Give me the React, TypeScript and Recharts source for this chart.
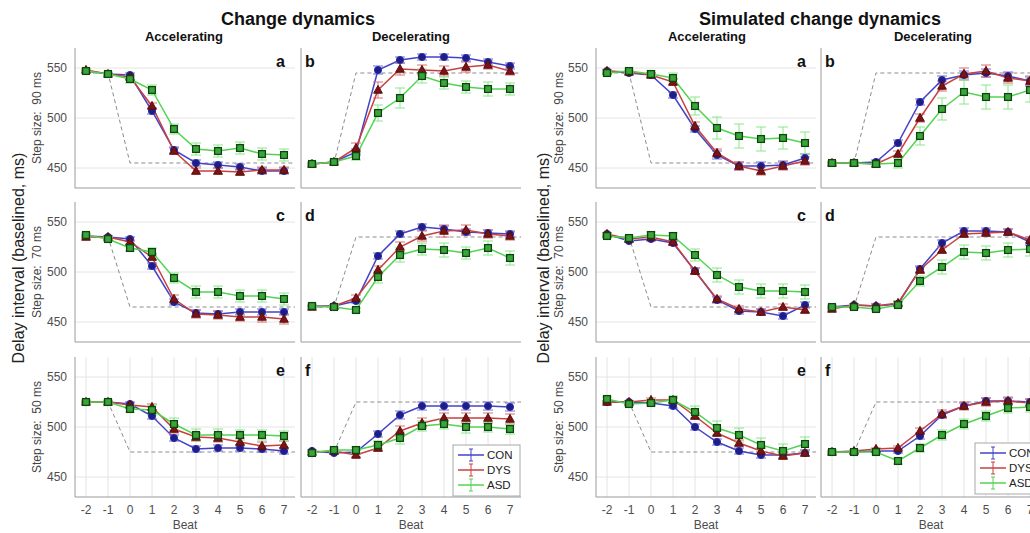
import React from 'react';
import { LineChart, Line, XAxis, YAxis, CartesianGrid, ErrorBar } from 'recharts';

// ---- shared axis values ----
const beats = [-2, -1, 0, 1, 2, 3, 4, 5, 6, 7];
const yTicks = [450, 500, 550];
const targetBeats = [-2, -1, 0, 7.5];

// target (stimulus) intervals, dashed line
const accTarget90 = [545, 545, 455, 455];
const decTarget90 = [455, 455, 545, 545];
const accTarget70 = [535, 535, 465, 465];
const decTarget70 = [465, 465, 535, 535];
const accTarget50 = [525, 525, 475, 475];
const decTarget50 = [475, 475, 525, 525];

// ---- Change dynamics (observed) ----
const obsAcc90Con = [547, 544, 543, 507, 468, 455, 453, 451, 447, 447];
const obsAcc90Dys = [548, 544, 541, 512, 467, 447, 447, 446, 448, 448];
const obsAcc90Asd = [547, 544, 539, 528, 489, 469, 467, 470, 464, 463];
const obsAcc90ConErr = [1, 1, 2, 3, 3, 3, 3, 3, 3, 3];
const obsAcc90DysErr = [1, 1, 2, 3, 3, 3, 3, 3, 3, 3];
const obsAcc90AsdErr = [2, 2, 4, 5, 5, 6, 6, 6, 6, 6];

const obsDec90Con = [454, 456, 466, 548, 558, 561, 561, 560, 556, 552];
const obsDec90Dys = [454, 456, 470, 528, 549, 548, 547, 551, 553, 547];
const obsDec90Asd = [454, 456, 462, 505, 520, 542, 535, 531, 529, 529];
const obsDec90ConErr = [1, 1, 3, 4, 3, 3, 3, 3, 3, 3];
const obsDec90DysErr = [1, 1, 5, 8, 6, 5, 5, 5, 4, 4];
const obsDec90AsdErr = [2, 2, 4, 8, 10, 7, 6, 6, 7, 6];

const obsAcc70Con = [536, 535, 533, 506, 470, 459, 458, 460, 460, 460];
const obsAcc70Dys = [535, 535, 530, 515, 473, 458, 457, 455, 455, 453];
const obsAcc70Asd = [537, 533, 524, 520, 494, 480, 480, 476, 476, 473];
const obsAcc70ConErr = [1, 1, 2, 3, 3, 3, 3, 3, 3, 3];
const obsAcc70DysErr = [1, 1, 2, 3, 4, 4, 4, 4, 5, 5];
const obsAcc70AsdErr = [2, 2, 3, 4, 5, 6, 6, 6, 6, 6];

const obsDec70Con = [466, 466, 471, 516, 538, 545, 543, 540, 539, 538];
const obsDec70Dys = [465, 466, 474, 502, 525, 536, 541, 542, 538, 536];
const obsDec70Asd = [466, 465, 462, 495, 517, 523, 522, 519, 524, 514];
const obsDec70ConErr = [1, 1, 2, 3, 3, 3, 3, 3, 3, 3];
const obsDec70DysErr = [1, 1, 3, 4, 5, 5, 6, 5, 4, 4];
const obsDec70AsdErr = [2, 2, 2, 6, 7, 6, 7, 6, 7, 7];

const obsAcc50Con = [525, 525, 523, 511, 489, 478, 479, 479, 478, 476];
const obsAcc50Dys = [525, 525, 522, 520, 498, 490, 489, 485, 481, 482];
const obsAcc50Asd = [525, 525, 518, 517, 503, 492, 492, 492, 492, 491];
const obsAcc50ConErr = [1, 1, 2, 3, 3, 3, 3, 3, 3, 3];
const obsAcc50DysErr = [1, 1, 2, 3, 4, 4, 4, 4, 4, 4];
const obsAcc50AsdErr = [2, 2, 3, 5, 6, 6, 6, 5, 5, 5];

const obsDec50Con = [476, 474, 475, 493, 512, 521, 521, 521, 521, 520];
const obsDec50Dys = [475, 476, 472, 479, 496, 504, 509, 509, 509, 508];
const obsDec50Asd = [474, 477, 477, 482, 489, 501, 503, 500, 500, 498];
const obsDec50ConErr = [1, 1, 2, 3, 4, 4, 4, 4, 4, 4];
const obsDec50DysErr = [1, 1, 2, 3, 5, 5, 5, 5, 5, 5];
const obsDec50AsdErr = [2, 2, 3, 4, 6, 5, 5, 6, 5, 5];

// ---- Simulated change dynamics ----
const simAcc90Con = [547, 545, 543, 523, 489, 463, 452, 452, 453, 460];
const simAcc90Dys = [547, 546, 543, 536, 492, 465, 452, 447, 452, 457];
const simAcc90Asd = [545, 547, 544, 540, 512, 490, 482, 479, 480, 475];
const simAcc90ConErr = [1, 1, 2, 3, 3, 4, 4, 4, 4, 4];
const simAcc90DysErr = [1, 1, 2, 3, 4, 4, 4, 4, 4, 4];
const simAcc90AsdErr = [2, 2, 3, 5, 9, 11, 12, 12, 11, 11];

const simDec90Con = [455, 455, 456, 475, 516, 538, 543, 545, 542, 537];
const simDec90Dys = [455, 455, 454, 464, 500, 532, 544, 547, 540, 537];
const simDec90Asd = [455, 455, 454, 455, 482, 509, 526, 521, 521, 528];
const simDec90ConErr = [1, 1, 2, 3, 3, 4, 4, 4, 4, 4];
const simDec90DysErr = [1, 1, 2, 3, 4, 5, 6, 6, 5, 5];
const simDec90AsdErr = [2, 2, 3, 5, 9, 11, 12, 12, 12, 12];

const simAcc70Con = [538, 531, 533, 529, 501, 472, 461, 460, 456, 467];
const simAcc70Dys = [538, 533, 535, 530, 501, 473, 463, 460, 465, 462];
const simAcc70Asd = [536, 534, 537, 536, 517, 497, 485, 481, 481, 480];
const simAcc70ConErr = [1, 1, 2, 2, 3, 3, 3, 3, 3, 3];
const simAcc70DysErr = [1, 1, 2, 2, 3, 3, 3, 3, 3, 3];
const simAcc70AsdErr = [2, 2, 3, 3, 6, 7, 7, 7, 7, 7];

const simDec70Con = [465, 467, 466, 468, 503, 529, 541, 541, 540, 530];
const simDec70Dys = [463, 467, 466, 469, 502, 522, 538, 539, 540, 532];
const simDec70Asd = [465, 465, 463, 467, 491, 505, 520, 519, 522, 523];
const simDec70ConErr = [1, 1, 2, 2, 3, 3, 3, 3, 3, 3];
const simDec70DysErr = [1, 1, 2, 2, 3, 3, 3, 3, 3, 3];
const simDec70AsdErr = [2, 2, 2, 2, 5, 7, 7, 7, 7, 7];

const simAcc50Con = [525, 525, 524, 521, 500, 485, 476, 472, 472, 474];
const simAcc50Dys = [525, 525, 527, 527, 511, 494, 484, 476, 471, 474];
const simAcc50Asd = [528, 523, 524, 527, 515, 499, 492, 482, 476, 483];
const simAcc50ConErr = [1, 1, 2, 2, 3, 3, 3, 3, 3, 3];
const simAcc50DysErr = [1, 1, 2, 2, 3, 3, 3, 3, 3, 3];
const simAcc50AsdErr = [2, 2, 3, 4, 6, 7, 7, 7, 7, 7];

const simDec50Con = [475, 475, 476, 476, 491, 512, 521, 526, 526, 525];
const simDec50Dys = [475, 476, 478, 479, 496, 513, 521, 525, 526, 524];
const simDec50Asd = [475, 475, 475, 466, 479, 492, 503, 511, 519, 520];
const simDec50ConErr = [1, 1, 1, 2, 3, 3, 3, 3, 3, 3];
const simDec50DysErr = [1, 1, 1, 2, 3, 4, 4, 4, 4, 4];
const simDec50AsdErr = [2, 2, 2, 3, 4, 5, 5, 5, 5, 5];

const groupNames = ['CON', 'DYS', 'ASD'];
const stepLabels = ['Step size:  90 ms', 'Step size:  70 ms', 'Step size:  50 ms'];

// ---- styling ----
const FONT = '"Liberation Sans", Arial, Helvetica, sans-serif';
const COL = {
  con: { line: '#4343c9', err: '#7070dc', mark: '#1d1d86', edge: '#2f2fa8' },
  dys: { line: '#c84040', err: '#dc7070', mark: '#7a1414', edge: '#5a0a0a' },
  asd: { line: '#52d452', err: '#88e888', mark: '#3aa63a', edge: '#0f430f' },
};
const lineColors = [COL.con.line, COL.dys.line, COL.asd.line];

// plot box geometry
const BOX_W = 220;
const BOX_H = 140;
const colLefts = [75, 301, 596, 821];
const rowTops = [48, 202, 357];
const Y_AXIS_W = 40;
const M_TOP = 5;
const M_RIGHT = 5;
const X_AXIS_H = 35;

const ConDot = (p: any) => {
  if (p.cx == null || p.cy == null) return <g key={p.key} />;
  return <circle key={p.key} cx={p.cx} cy={p.cy} r={3.6} fill={COL.con.mark} stroke={COL.con.edge} strokeWidth={1} />;
};
const DysDot = (p: any) => {
  if (p.cx == null || p.cy == null) return <g key={p.key} />;
  const { cx, cy } = p;
  return (
    <polygon key={p.key} points={`${cx},${cy - 4.6} ${cx - 4.3},${cy + 3.2} ${cx + 4.3},${cy + 3.2}`}
      fill={COL.dys.mark} stroke={COL.dys.edge} strokeWidth={1} />
  );
};
const AsdDot = (p: any) => {
  if (p.cx == null || p.cy == null) return <g key={p.key} />;
  return <rect key={p.key} x={p.cx - 3.4} y={p.cy - 3.4} width={6.8} height={6.8} fill={COL.asd.mark} stroke={COL.asd.edge} strokeWidth={1.3} />;
};

interface PanelProps {
  col: number;
  row: number;
  con: number[]; dys: number[]; asd: number[];
  conErr: number[]; dysErr: number[]; asdErr: number[];
  target: number[];
}

const Panel: React.FC<PanelProps> = ({ col, row, con, dys, asd, conErr, dysErr, asdErr, target }) => {
  const rows = beats.map((beat, i) => ({
    beat, con: con[i], dys: dys[i], asd: asd[i],
    conErr: conErr[i], dysErr: dysErr[i], asdErr: asdErr[i],
  }));
  const targetRows = targetBeats.map((beat, i) => ({ beat, target: target[i] }));
  const showY = col === 0 || col === 2;
  const showX = row === 2;
  const tickStyle = { fill: '#4d4d4d', fontSize: 12, fontFamily: FONT };

  return (
    <div style={{ position: 'absolute', left: colLefts[col] - Y_AXIS_W, top: rowTops[row] - M_TOP }}>
      <LineChart width={Y_AXIS_W + BOX_W + M_RIGHT} height={M_TOP + BOX_H + X_AXIS_H} data={rows}
        margin={{ top: M_TOP, right: M_RIGHT, left: 0, bottom: 0 }}>
        <CartesianGrid stroke="#e4e4e4" strokeWidth={1} horizontalValues={yTicks} verticalValues={beats} />
        <XAxis type="number" dataKey="beat" domain={[-2.5, 7.5]} ticks={beats} allowDataOverflow
          height={X_AXIS_H} tickLine={false} axisLine={{ stroke: '#9a9a9a' }}
          tick={showX ? tickStyle : false}
          label={showX ? { value: 'Beat', position: 'insideBottom', offset: 3, fill: '#4d4d4d', fontSize: 12, fontFamily: FONT } : undefined} />
        <YAxis type="number" domain={[430, 570]} ticks={yTicks} allowDataOverflow width={Y_AXIS_W}
          tickLine={false} axisLine={{ stroke: '#9a9a9a' }} tick={showY ? tickStyle : false} />
        <Line data={targetRows} dataKey="target" stroke="#8c8c8c" strokeWidth={1} strokeDasharray="4 3"
          dot={false} type="linear" isAnimationActive={false} />
        <Line dataKey="con" stroke={COL.con.line} strokeWidth={1.5} type="linear" dot={ConDot} isAnimationActive={false}>
          <ErrorBar dataKey="conErr" direction="y" width={5} stroke={COL.con.err} strokeWidth={1} isAnimationActive={false} />
        </Line>
        <Line dataKey="dys" stroke={COL.dys.line} strokeWidth={1.5} type="linear" dot={DysDot} isAnimationActive={false}>
          <ErrorBar dataKey="dysErr" direction="y" width={5} stroke={COL.dys.err} strokeWidth={1} isAnimationActive={false} />
        </Line>
        <Line dataKey="asd" stroke={COL.asd.line} strokeWidth={1.5} type="linear" dot={AsdDot} isAnimationActive={false}>
          <ErrorBar dataKey="asdErr" direction="y" width={5} stroke={COL.asd.err} strokeWidth={1} isAnimationActive={false} />
        </Line>
      </LineChart>
    </div>
  );
};

// legend drawn like the MATLAB one (line + error bar glyph)
const LegendBox = ({ x, y }: { x: number; y: number }) => (
  <g>
    <rect x={x} y={y} width={67} height={51} fill="#ffffff" stroke="#a8a8a8" strokeWidth={1} />
    {groupNames.map((name, i) => {
      const ly = y + 10 + i * 15;
      return (
        <g key={name}>
          <line x1={x + 5} x2={x + 31} y1={ly} y2={ly} stroke={lineColors[i]} strokeWidth={1.5} />
          <line x1={x + 18} x2={x + 18} y1={ly - 6} y2={ly + 6} stroke={lineColors[i]} strokeWidth={1} />
          <line x1={x + 16} x2={x + 20} y1={ly - 6} y2={ly - 6} stroke={lineColors[i]} strokeWidth={1} />
          <line x1={x + 16} x2={x + 20} y1={ly + 6} y2={ly + 6} stroke={lineColors[i]} strokeWidth={1} />
          <text x={x + 34} y={ly + 4} fontSize={11.5} fill="#222" fontFamily={FONT}>{name}</text>
        </g>
      );
    })}
  </g>
);

const App: React.FC = () => {
  const obs = [
    [obsAcc90Con, obsAcc90Dys, obsAcc90Asd, obsAcc90ConErr, obsAcc90DysErr, obsAcc90AsdErr, accTarget90],
    [obsDec90Con, obsDec90Dys, obsDec90Asd, obsDec90ConErr, obsDec90DysErr, obsDec90AsdErr, decTarget90],
    [obsAcc70Con, obsAcc70Dys, obsAcc70Asd, obsAcc70ConErr, obsAcc70DysErr, obsAcc70AsdErr, accTarget70],
    [obsDec70Con, obsDec70Dys, obsDec70Asd, obsDec70ConErr, obsDec70DysErr, obsDec70AsdErr, decTarget70],
    [obsAcc50Con, obsAcc50Dys, obsAcc50Asd, obsAcc50ConErr, obsAcc50DysErr, obsAcc50AsdErr, accTarget50],
    [obsDec50Con, obsDec50Dys, obsDec50Asd, obsDec50ConErr, obsDec50DysErr, obsDec50AsdErr, decTarget50],
  ];
  const sim = [
    [simAcc90Con, simAcc90Dys, simAcc90Asd, simAcc90ConErr, simAcc90DysErr, simAcc90AsdErr, accTarget90],
    [simDec90Con, simDec90Dys, simDec90Asd, simDec90ConErr, simDec90DysErr, simDec90AsdErr, decTarget90],
    [simAcc70Con, simAcc70Dys, simAcc70Asd, simAcc70ConErr, simAcc70DysErr, simAcc70AsdErr, accTarget70],
    [simDec70Con, simDec70Dys, simDec70Asd, simDec70ConErr, simDec70DysErr, simDec70AsdErr, decTarget70],
    [simAcc50Con, simAcc50Dys, simAcc50Asd, simAcc50ConErr, simAcc50DysErr, simAcc50AsdErr, accTarget50],
    [simDec50Con, simDec50Dys, simDec50Asd, simDec50ConErr, simDec50DysErr, simDec50AsdErr, decTarget50],
  ];
  const letters = ['a', 'b', 'c', 'd', 'e', 'f'];

  const panels: React.ReactNode[] = [];
  [obs, sim].forEach((set, g) => {
    set.forEach((s, k) => {
      const row = Math.floor(k / 2);
      const col = g * 2 + (k % 2);
      panels.push(
        <Panel key={`${g}-${k}`} col={col} row={row}
          con={s[0]} dys={s[1]} asd={s[2]} conErr={s[3]} dysErr={s[4]} asdErr={s[5]} target={s[6]} />
      );
    });
  });

  return (
    <div style={{ position: 'absolute', left: 0, top: 0, width: 1030, height: 533, overflow: 'hidden', background: '#fff', fontFamily: FONT }}>
      {panels}
      <svg width={1030} height={533} style={{ position: 'absolute', left: 0, top: 0, pointerEvents: 'none' }}>
        {/* titles */}
        <text x={298} y={25} textAnchor="middle" fontSize={18} fontWeight="bold" fill="#111">Change dynamics</text>
        <text x={184} y={41} textAnchor="middle" fontSize={13} fontWeight="bold" fill="#111">Accelerating</text>
        <text x={411} y={41} textAnchor="middle" fontSize={13} fontWeight="bold" fill="#111">Decelerating</text>
        <text x={820} y={25} textAnchor="middle" fontSize={18} fontWeight="bold" fill="#111">Simulated change dynamics</text>
        <text x={707} y={41} textAnchor="middle" fontSize={13} fontWeight="bold" fill="#111">Accelerating</text>
        <text x={933} y={41} textAnchor="middle" fontSize={13} fontWeight="bold" fill="#111">Decelerating</text>

        {/* big y labels */}
        {[20, 545].map((x) => (
          <text key={x} x={x} y={258} transform={`rotate(-90 ${x} 258)`} textAnchor="middle" dominantBaseline="middle"
            fontSize={16} fill="#222">Delay interval (baselined, ms)</text>
        ))}
        {/* step size labels */}
        {[38, 560].map((x) => rowTops.map((t, r) => {
          const cy = t + BOX_H / 2;
          return (
            <text key={`${x}-${r}`} x={x} y={cy} transform={`rotate(-90 ${x} ${cy})`} textAnchor="middle"
              dominantBaseline="middle" fontSize={12} fill="#444" style={{ whiteSpace: 'pre' }}>{stepLabels[r]}</text>
          );
        }))}

        {/* panel letters */}
        {[0, 2].map((c) => rowTops.map((t, r) => (
          <g key={`L${c}-${r}`}>
            <text x={colLefts[c] + BOX_W - 10} y={t + 19} textAnchor="end" fontSize={16} fontWeight="bold" fill="#111">{letters[r * 2]}</text>
            <text x={colLefts[c + 1] + 4} y={t + 19} fontSize={16} fontWeight="bold" fill="#111">{letters[r * 2 + 1]}</text>
          </g>
        )))}

        <LegendBox x={453} y={445} />
        <LegendBox x={975} y={443} />
      </svg>
    </div>
  );
};

export default App;
